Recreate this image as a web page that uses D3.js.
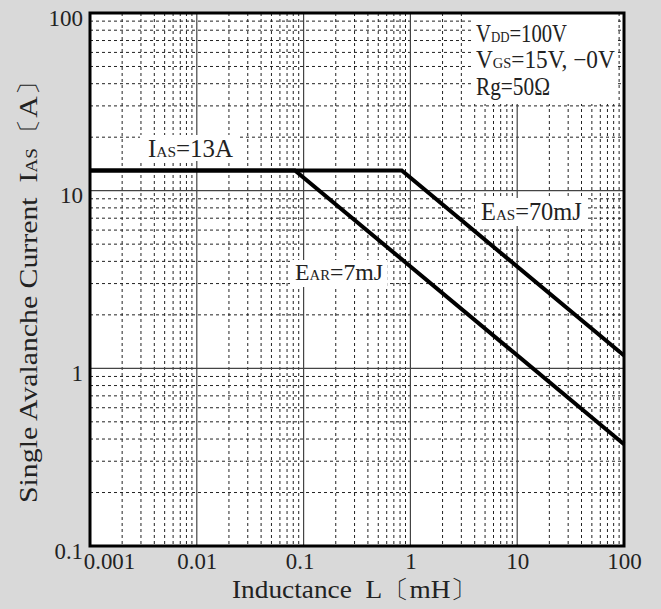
<!DOCTYPE html>
<html><head><meta charset="utf-8">
<script src="https://cdn.jsdelivr.net/npm/d3@7"></script>
<style>
html,body{margin:0;padding:0;background:#d9d9d9;}
svg text{font-family:"Liberation Serif","Times New Roman","DejaVu Serif",serif !important;}
</style></head>
<body>
<svg id="chart" width="661" height="609"></svg>
<script>
// Data
const xTicks = [0.001, 0.01, 0.1, 1, 10, 100];
const xTickLabels = ["0.001", "0.01", "0.1", "1", "10", "100"];
const yTicks = [0.1, 1, 10, 100];
const yTickLabels = ["0.1", "1", "10", "100"];
const earL = [0.001, 0.083, 100];
const earI = [13, 13, 0.374];
const easL = [0.001, 0.83, 100];
const easI = [13, 13, 1.18];

const svg = d3.select("#chart");
const W = 661, H = 609;
const m = {l: 90, r: 624, t: 13, b: 546};
svg.append("rect").attr("width", W).attr("height", H).attr("fill", "#d9d9d9");

const x = d3.scaleLog().domain([0.001, 100]).range([m.l, m.r]);
const y = d3.scaleLog().domain([0.1, 100]).range([m.b, m.t]);

svg.append("rect").attr("x", m.l).attr("y", m.t).attr("width", m.r - m.l).attr("height", m.b - m.t).attr("fill", "#fff");

// minor grid
const minorX = [], minorY = [];
for (let d = -3; d < 2; d++) for (let k = 2; k <= 9; k++) minorX.push(k * Math.pow(10, d));
for (let d = -1; d < 2; d++) for (let k = 2; k <= 9; k++) minorY.push(k * Math.pow(10, d));
const g = svg.append("g");
g.selectAll(".mx").data(minorX).join("line")
  .attr("x1", d => x(d)).attr("x2", d => x(d)).attr("y1", m.t).attr("y2", m.b)
  .attr("stroke", "#222").attr("stroke-width", 1).attr("stroke-dasharray", "3,3");
g.selectAll(".my").data(minorY).join("line")
  .attr("y1", d => y(d)).attr("y2", d => y(d)).attr("x1", m.l).attr("x2", m.r)
  .attr("stroke", "#222").attr("stroke-width", 1).attr("stroke-dasharray", "3,3");
// major grid
g.selectAll(".Mx").data(xTicks.slice(1, -1)).join("line")
  .attr("x1", d => x(d)).attr("x2", d => x(d)).attr("y1", m.t).attr("y2", m.b)
  .attr("stroke", "#444").attr("stroke-width", 1.2);
g.selectAll(".My").data(yTicks.slice(1, -1)).join("line")
  .attr("y1", d => y(d)).attr("y2", d => y(d)).attr("x1", m.l).attr("x2", m.r)
  .attr("stroke", "#444").attr("stroke-width", 1.2);

// label background boxes
function box(x0, y0, x1, y1) {
  svg.append("rect").attr("x", x0).attr("y", y0).attr("width", x1 - x0).attr("height", y1 - y0).attr("fill", "#fff");
}
box(471, 14, 616, 104);
box(140, 135, 240, 161);
box(475, 198, 587, 226);
box(290, 260, 387, 287);

// curves
const line = d3.line().x(d => x(d[0])).y(d => y(d[1]));
svg.append("path").datum(earL.map((l, i) => [l, earI[i]])).attr("d", line)
  .attr("fill", "none").attr("stroke", "#000").attr("stroke-width", 4).attr("stroke-linejoin", "miter");
svg.append("path").datum(easL.map((l, i) => [l, easI[i]])).attr("d", line)
  .attr("fill", "none").attr("stroke", "#000").attr("stroke-width", 4).attr("stroke-linejoin", "miter");

// frame
svg.append("rect").attr("x", m.l).attr("y", m.t).attr("width", m.r - m.l).attr("height", m.b - m.t)
  .attr("fill", "none").attr("stroke", "#000").attr("stroke-width", 3);

// width a numeric label should occupy (digits ~11.5px, dot ~5.5px)
const numW = s => s.split("").reduce((a, c) => a + (c === "." ? 5.5 : 11.5), 0);

// axes (tick labels via d3 axes, domain/ticks hidden)
const xAxis = d3.axisBottom(x).tickValues(xTicks).tickFormat((d, i) => xTickLabels[i]).tickSize(0).tickPadding(0);
const xa = svg.append("g").attr("transform", `translate(0,${m.b})`).call(xAxis);
xa.attr("font-family", null).attr("font-size", 23);
xa.select(".domain").remove();
const xShift = [19, 0, -4, 0, 0, 0];
xa.selectAll("text").each(function (d, i) {
  const t = d3.select(this).attr("font-size", 23).attr("fill", "#222").attr("dy", null)
    .attr("text-anchor", "start").attr("x", 0).attr("y", 0);
  const bb = this.getBBox();
  const w = numW(xTickLabels[i]);
  t.attr("transform", `translate(${xShift[i] - w / 2},23) scale(${w / bb.width},1)`);
});

const yAxis = d3.axisLeft(y).tickValues(yTicks).tickFormat((d, i) => yTickLabels[i]).tickSize(0).tickPadding(0);
const ya = svg.append("g").attr("transform", `translate(83,0)`).call(yAxis);
ya.attr("font-family", null).attr("font-size", 23);
ya.select(".domain").remove();
ya.selectAll("text").each(function (d, i) {
  const t = d3.select(this).attr("font-size", 23).attr("fill", "#222").attr("dy", null)
    .attr("text-anchor", "start").attr("x", 0).attr("y", 0);
  const bb = this.getBBox();
  const w = numW(yTickLabels[i]);
  t.attr("transform", `translate(${-w},12) scale(${w / bb.width},1)`);
});

// fit a text element horizontally to a target width (start anchored at its local origin)
function fit(t, w) {
  const bb = t.node().getBBox();
  if (bb.width > 0) t.attr("transform", `scale(${w / bb.width},1)`);
}

// titles
const xtG = svg.append("g").attr("transform", "translate(232,598)");
const xt = xtG.append("text").attr("font-size", 25).attr("fill", "#222")
  .text("Inductance\u2002L\u3014mH\u3015");
fit(xt, 246);
const ytG = svg.append("g").attr("transform", "translate(37,503) rotate(-90)");
const yt = ytG.append("text").attr("font-size", 25).attr("fill", "#222");
yt.append("tspan").text("Single Avalanche Current\u2002I");
yt.append("tspan").attr("font-size", 16).text("AS");
yt.append("tspan").text("\u3014A\u3015");
fit(yt, 436);

// annotations
function label(xp, yp, parts, size, len) {
  const gg = svg.append("g").attr("transform", `translate(${xp},${yp})`);
  const t = gg.append("text").attr("font-size", size).attr("fill", "#222");
  parts.forEach(p => t.append("tspan").attr("font-size", p[1] ? size * 0.62 : size).text(p[0]));
  fit(t, len);
  return t;
}
label(148, 157, [["I"], ["AS", 1], ["=13A"]], 25, 85);
label(481, 220, [["E"], ["AS", 1], ["=70mJ"]], 25, 101);
label(295, 280, [["E"], ["AR", 1], ["=7mJ"]], 24, 88);
label(476, 42, [["V"], ["DD", 1], ["=100V"]], 25, 91);
label(476, 68, [["V"], ["GS", 1], ["=15V, \u22120V"]], 25, 139);
label(476, 95, [["Rg=50\u03A9"]], 25, 74);
</script>
</body></html>
